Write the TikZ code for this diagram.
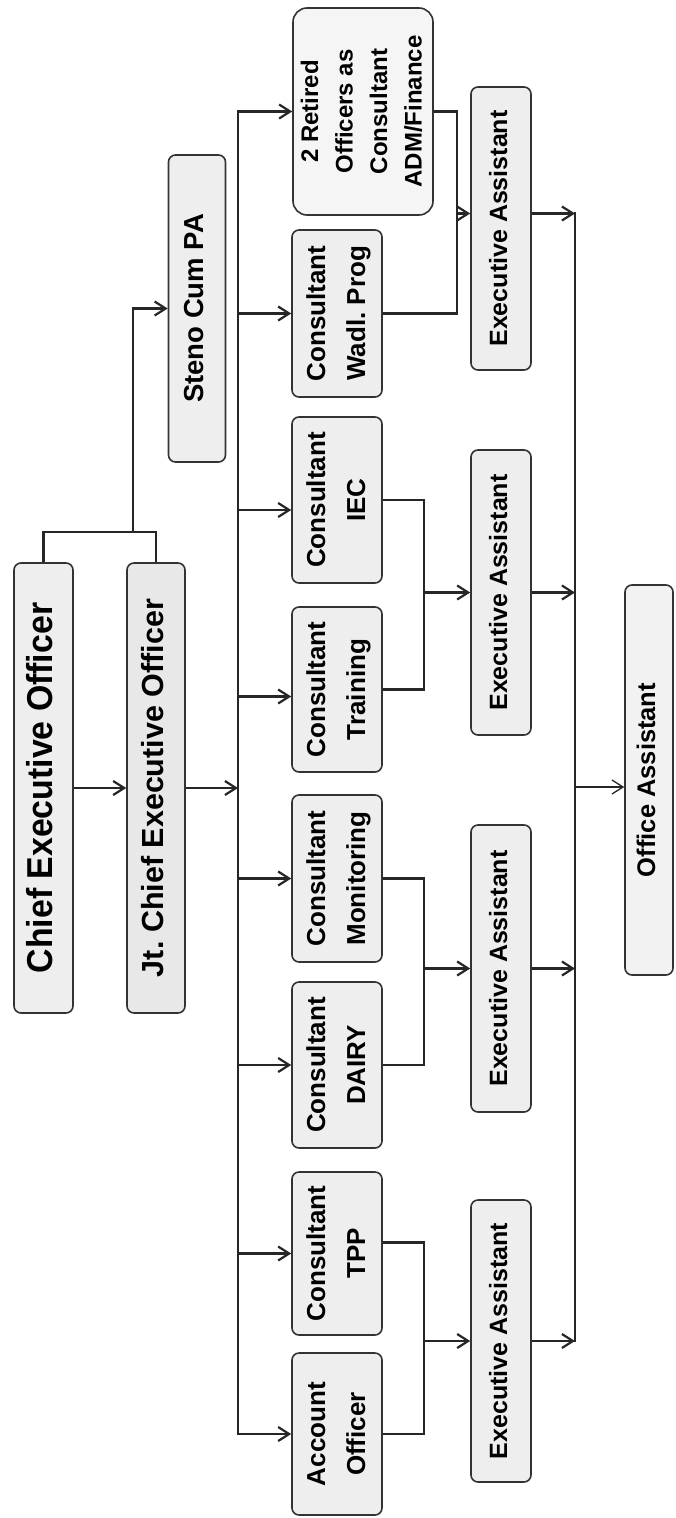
\documentclass[tikz,border=0pt]{standalone}
\usepackage{fontspec}
\setmainfont{Liberation Sans}
\usepackage{graphicx}
\usetikzlibrary{arrows.meta}
\frenchspacing
\newcommand{\vlabel}[1]{\rotatebox{90}{\begin{tabular}{@{}c@{}}#1\end{tabular}}}
\begin{document}
\begin{tikzpicture}[x=1pt,y=-1pt,
  box/.style={draw=black!80, line width=1.6pt, rounded corners=7pt, fill=gray!13, inner sep=0pt, text=black},
  cons/.style={box, minimum width=90pt, minimum height=#1, font=\fontsize{26}{40}\selectfont\bfseries},
  exa/.style={box, minimum width=60pt, minimum height=#1, font=\fontsize{25}{30}\selectfont\bfseries},
  conn/.style={line width=2.2pt, draw=black!85},
  arr/.style={conn, -{Straight Barb[length=11pt,width=14pt]}},
]
\path[use as bounding box, fill=white] (0,0) rectangle (675,1518);

% top level
\node[box, minimum width=59pt, minimum height=450pt, font=\fontsize{36}{44}\selectfont\bfseries] (ceo) at (43.5,788) {\vlabel{\scalebox{0.94}[1]{Chief Executive Officer}}};
\node[box, fill=gray!18, minimum width=58pt, minimum height=450pt, font=\fontsize{30.5}{37}\selectfont\bfseries] (jt) at (156,788) {\vlabel{Jt. Chief Executive Officer}};
\node[box, minimum width=57pt, minimum height=307pt, font=\fontsize{27.5}{33}\selectfont\bfseries] (steno) at (197,308.5) {\vlabel{Steno Cum PA}};

% consultants
\node[box, fill=gray!8, rounded corners=14pt, minimum width=140pt, minimum height=207pt, font=\fontsize{24}{34.5}\selectfont\bfseries] (ret) at (363,111.5) {\vlabel{2 Retired\\Officers as\\Consultant\\ADM/Finance}};
\node[cons=167pt] (wadl) at (337,313.5) {\vlabel{Consultant\\Wadl. Prog}};
\node[cons=166pt] (iec) at (337,500) {\vlabel{Consultant\\IEC}};
\node[cons=165pt] (trn) at (337,689.5) {\vlabel{Consultant\\Training}};
\node[cons=167pt] (mon) at (337,878.5) {\vlabel{Consultant\\Monitoring}};
\node[cons=166pt] (dairy) at (337,1065) {\vlabel{Consultant\\DAIRY}};
\node[cons=163pt] (tpp) at (337,1253.5) {\vlabel{Consultant\\TPP}};
\node[cons=162pt] (acc) at (337,1434) {\vlabel{Account\\Officer}};

% executive assistants
\node[exa=283pt] (ex1) at (501,228.5) {\vlabel{Executive Assistant}};
\node[exa=285pt] (ex2) at (501,592.5) {\vlabel{Executive Assistant}};
\node[exa=287pt] (ex3) at (501,968.5) {\vlabel{Executive Assistant}};
\node[exa=282pt] (ex4) at (501,1341) {\vlabel{Executive Assistant}};

% office assistant
\node[box, fill=gray!10, minimum width=48pt, minimum height=390pt, font=\fontsize{25.5}{30}\selectfont\bfseries] (off) at (649,780) {\vlabel{Office Assistant}};

% helper coordinates
\coordinate (j1) at (133,532);
\coordinate (bx) at (238,0);
\coordinate (m1) at (457,0);
\coordinate (m2) at (424,0);
\coordinate (rx) at (575,0);
\coordinate (iecin) at ([yshift=-10pt]iec.west);
\coordinate (trnin) at ([yshift=-7pt]trn.west);
\coordinate (e1in) at ([yshift=15pt]ex1.west);
\coordinate (e1out) at ([yshift=15pt]ex1.east);
\coordinate (tppout) at ([yshift=11pt]tpp.east);
\coordinate (offin) at ([yshift=-7pt]off.west);

% top connectors
\draw[conn] (ceo.north) |- (j1) -| (jt.north);
\draw[arr] (j1) |- (steno.west);
\draw[arr] (ceo.east) -- (jt.west);
\draw[arr] (jt.east) -- (jt.east -| bx);

% left bus
\draw[conn, line cap=rect] (bx |- ret.west) -- (bx |- acc.west);
\foreach \n in {ret,wadl,mon,dairy,tpp,acc} \draw[arr] (bx |- \n.west) -- (\n.west);
\draw[arr] (bx |- iecin) -- (iecin);
\draw[arr] (bx |- trnin) -- (trnin);

% merges to executive assistants
\draw[conn] (ret.east) -| (m1 |- wadl.east) -- (wadl.east);
\draw[arr] (m1 |- e1in) -- (e1in);
\draw[conn] (iec.east) -| (m2 |- trn.east) -- (trn.east);
\draw[arr] (m2 |- ex2.west) -- (ex2.west);
\draw[conn] (mon.east) -| (m2 |- dairy.east) -- (dairy.east);
\draw[arr] (m2 |- ex3.west) -- (ex3.west);
\draw[conn] (tppout) -| (m2 |- acc.east) -- (acc.east);
\draw[arr] (m2 |- ex4.west) -- (ex4.west);

% right bus
\draw[conn, line cap=rect] (rx |- e1out) -- (rx |- ex4.east);
\draw[arr] (e1out) -- (rx |- e1out);
\draw[arr] (ex2.east) -- (rx |- ex2.east);
\draw[arr] (ex3.east) -- (rx |- ex3.east);
\draw[arr] (ex4.east) -- (rx |- ex4.east);
\draw[arr, line width=1.3pt] (rx |- offin) -- (offin);
\end{tikzpicture}
\end{document}
